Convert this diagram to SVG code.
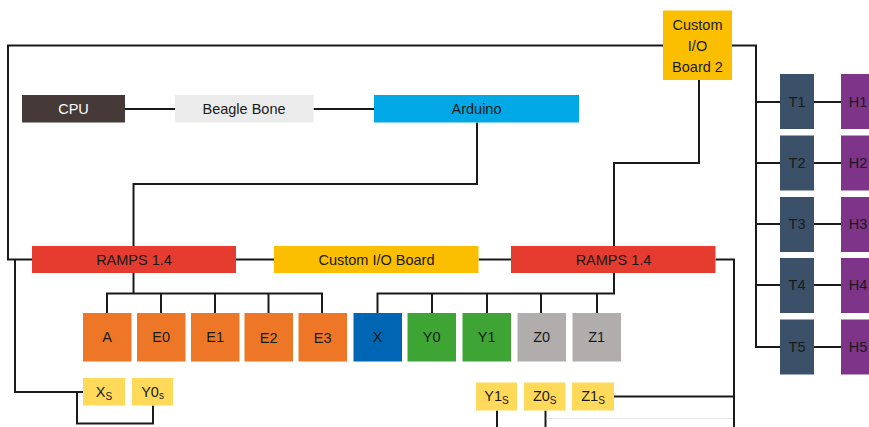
<svg xmlns="http://www.w3.org/2000/svg" width="869" height="427" viewBox="0 0 869 427">
<style>
text{font-family:"Liberation Sans",Arial,sans-serif;font-size:14.5px;text-anchor:middle;fill:#1a1a1a}
.w{fill:#ffffff}
.c{fill:none;stroke:#1a1a1a;stroke-width:2}
.f{fill:none;stroke:#e4e4e4;stroke-width:1}
.sub{font-size:10px}
.or{fill:#ee7727}.sn{fill:#fed95a}.tt{fill:#3b5069}.hh{fill:#7d3489}
</style>
<rect width="869" height="427" fill="#ffffff"/>
<g id="connectors">
<polyline class="c" points="663,45.5 8,45.5 8,259.5 32,259.5"/>
<polyline class="c" points="15,259.5 15,392 83,392"/>
<polyline class="c" points="77,392 77,423.5 153,423.5 153,405.5"/>
<line class="c" x1="125" y1="109" x2="175" y2="109"/>
<line class="c" x1="313.5" y1="109" x2="374" y2="109"/>
<polyline class="c" points="477,122.5 477,184 133.5,184 133.5,246"/>
<line class="c" x1="236" y1="259.5" x2="274" y2="259.5"/>
<line class="c" x1="478.5" y1="259.5" x2="511" y2="259.5"/>
<polyline class="c" points="133.5,273 133.5,293.5"/>
<polyline class="c" points="107,313 107,293.5 322,293.5 322,313"/>
<line class="c" x1="161" y1="293.5" x2="161" y2="313"/>
<line class="c" x1="215" y1="293.5" x2="215" y2="313"/>
<line class="c" x1="268.5" y1="293.5" x2="268.5" y2="313"/>
<polyline class="c" points="377.5,313 377.5,293.5 614,293.5 614,273"/>
<line class="c" x1="432" y1="293.5" x2="432" y2="313"/>
<line class="c" x1="487" y1="293.5" x2="487" y2="313"/>
<line class="c" x1="541" y1="293.5" x2="541" y2="313"/>
<line class="c" x1="597" y1="293.5" x2="597" y2="313"/>
<polyline class="c" points="699,80 699,163 614,163 614,246"/>
<polyline class="c" points="732,45.5 756,45.5 756,347 780,347"/>
<line class="c" x1="756" y1="102" x2="780" y2="102"/>
<line class="c" x1="756" y1="163" x2="780" y2="163"/>
<line class="c" x1="756" y1="224" x2="780" y2="224"/>
<line class="c" x1="756" y1="285" x2="780" y2="285"/>
<line class="c" x1="814" y1="102" x2="841" y2="102"/>
<line class="c" x1="814" y1="163" x2="841" y2="163"/>
<line class="c" x1="814" y1="224" x2="841" y2="224"/>
<line class="c" x1="814" y1="285" x2="841" y2="285"/>
<line class="c" x1="814" y1="347" x2="841" y2="347"/>
<polyline class="c" points="715.5,259.5 734,259.5 734,427"/>
<line class="c" x1="614" y1="396.5" x2="734" y2="396.5"/>
<line class="c" x1="497" y1="410.5" x2="497" y2="427"/>
<line class="c" x1="545.5" y1="410.5" x2="545.5" y2="427"/>
<line class="f" x1="546.5" y1="418.5" x2="733" y2="418.5"/>
</g>
<g id="cpu"><rect x="22" y="95" width="103" height="27.5" fill="#453a37"/><text class="w" x="73.5" y="114">CPU</text></g>
<g id="beaglebone"><rect x="175" y="95" width="138.5" height="27.5" fill="#ebebeb"/><text x="244" y="114">Beagle Bone</text></g>
<g id="arduino"><rect x="374" y="95" width="205" height="27.5" fill="#00a9e6"/><text x="476.5" y="114">Arduino</text></g>
<g id="customio2"><rect x="663" y="10.5" width="69" height="69.5" fill="#fbbf00"/><text x="697.5" y="30">Custom</text><text x="697.5" y="51">I/O</text><text x="697.5" y="72">Board 2</text></g>
<g id="ramps1"><rect x="32" y="246" width="204" height="27" fill="#e63c2f"/><text x="134" y="264.5">RAMPS 1.4</text></g>
<g id="customio"><rect x="274" y="246" width="204.5" height="27" fill="#fbbf00"/><text x="376.5" y="264.5">Custom I/O Board</text></g>
<g id="ramps2"><rect x="511" y="246" width="204.5" height="27" fill="#e63c2f"/><text x="613.5" y="264.5">RAMPS 1.4</text></g>
<g id="a"><rect class="or" x="83" y="313" width="48.5" height="48.5"/><text x="107.2" y="342">A</text></g>
<g id="e0"><rect class="or" x="137" y="313" width="48.5" height="48.5"/><text x="161.2" y="342">E0</text></g>
<g id="e1"><rect class="or" x="191" y="313" width="48.5" height="48.5"/><text x="215.2" y="342">E1</text></g>
<g id="e2"><rect class="or" x="244.5" y="313" width="48.5" height="48.5"/><text x="268.7" y="343">E2</text></g>
<g id="e3"><rect class="or" x="298.5" y="313" width="48.5" height="48.5"/><text x="322.7" y="343">E3</text></g>
<g id="x"><rect x="353.5" y="313" width="48.5" height="48.5" fill="#0066b3"/><text x="377.7" y="342">X</text></g>
<g id="y0"><rect x="407.5" y="313" width="48.5" height="48.5" fill="#3ea535"/><text x="431.7" y="342">Y0</text></g>
<g id="y1"><rect x="462.5" y="313" width="48.5" height="48.5" fill="#3ea535"/><text x="486.7" y="342">Y1</text></g>
<g id="z0"><rect x="517.5" y="313" width="48.5" height="48.5" fill="#b0adac"/><text x="541.7" y="342">Z0</text></g>
<g id="z1"><rect x="572.5" y="313" width="48.5" height="48.5" fill="#b0adac"/><text x="596.7" y="342">Z1</text></g>
<g id="xs"><rect class="sn" x="83" y="378" width="42" height="27.5"/><text x="104" y="397">X<tspan class="sub" dy="3">S</tspan></text></g>
<g id="y0s"><rect class="sn" x="132" y="378" width="41" height="27.5"/><text x="152.5" y="397">Y0<tspan class="sub" dy="2">s</tspan></text></g>
<g id="y1s"><rect class="sn" x="476" y="382.5" width="41" height="28"/><text x="496.5" y="401">Y1<tspan class="sub" dy="3">S</tspan></text></g>
<g id="z0s"><rect class="sn" x="524" y="382.5" width="41.5" height="28"/><text x="544.7" y="401">Z0<tspan class="sub" dy="3">S</tspan></text></g>
<g id="z1s"><rect class="sn" x="572" y="382.5" width="42" height="28"/><text x="593" y="401">Z1<tspan class="sub" dy="3">S</tspan></text></g>
<g id="t1"><rect class="tt" x="780" y="74" width="34" height="55"/><text x="797" y="107">T1</text></g>
<g id="t2"><rect class="tt" x="780" y="135.5" width="34" height="55"/><text x="797" y="168">T2</text></g>
<g id="t3"><rect class="tt" x="780" y="197" width="34" height="55"/><text x="797" y="229">T3</text></g>
<g id="t4"><rect class="tt" x="780" y="258" width="34" height="55"/><text x="797" y="290">T4</text></g>
<g id="t5"><rect class="tt" x="780" y="319.5" width="34" height="55"/><text x="797" y="352">T5</text></g>
<g id="h1"><rect class="hh" x="841" y="74" width="34" height="55"/><text x="858" y="107">H1</text></g>
<g id="h2"><rect class="hh" x="841" y="135.5" width="34" height="55"/><text x="858" y="168">H2</text></g>
<g id="h3"><rect class="hh" x="841" y="197" width="34" height="55"/><text x="858" y="229">H3</text></g>
<g id="h4"><rect class="hh" x="841" y="258" width="34" height="55"/><text x="858" y="290">H4</text></g>
<g id="h5"><rect class="hh" x="841" y="319.5" width="34" height="55"/><text x="858" y="352">H5</text></g>
</svg>
